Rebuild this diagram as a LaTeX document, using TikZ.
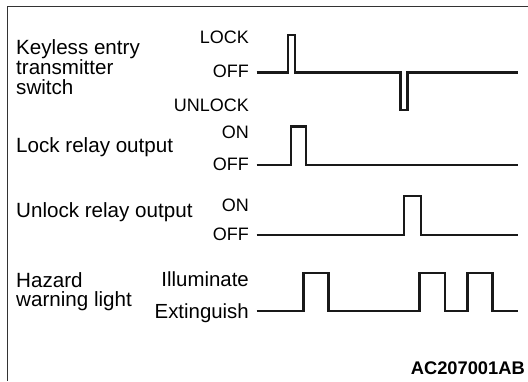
\documentclass[tikz,border=0pt]{standalone}
\usepackage{fontspec}
\setmainfont{Liberation Sans}
\begin{document}
\begin{tikzpicture}[x=1pt,y=-1pt,
  frame/.style={draw=black!80,line width=1.4pt},
  wave/.style={draw=black!90,line width=2.6pt,line join=miter},
  lbl/.style={inner sep=0pt,font=\fontsize{20.6}{20}\selectfont,align=left,anchor=base west},
  lvl/.style={inner sep=0pt,font=\fontsize{18}{20}\selectfont,anchor=base east},
  lvlw/.style={inner sep=0pt,font=\fontsize{20.4}{20}\selectfont,anchor=base east}]
\useasboundingbox (0,0) rectangle (528,381);
\coordinate (tl) at (7.5,6.5);
\coordinate (tr) at (528,6.5);
\coordinate (bl) at (7.5,381);
\draw[frame] (tr) -- (tl) -- (bl);
% left labels
\node[lbl] (k1) at (16,54) {Keyless entry};
\node[lbl] (k2) at (16,74) {transmitter};
\node[lbl] (k3) at (16,94) {switch};
\node[lbl] (lr) at (16,152) {Lock relay output};
\node[lbl] (ur) at (16,217) {Unlock relay output};
\node[lbl] (h1) at (16,287) {Hazard};
\node[lbl] (h2) at (16,306) {warning light};
% level labels
\node[lvl] (kl) at (249,43) {LOCK};
\node[lvl] (ko) at (249,77.5) {OFF};
\node[lvl] (ku) at (249,111) {UNLOCK};
\node[lvl] (lon) at (249,138) {ON};
\node[lvl] (loff) at (249,170) {OFF};
\node[lvl] (uon) at (249,211) {ON};
\node[lvl] (uoff) at (249,240) {OFF};
\node[lvlw] (hil) at (249,286) {Illuminate};
\node[lvlw] (hex) at (249,318) {Extinguish};
% waveforms
\draw[wave] (256.5,72.5) -- (288,72.5) -- (288,35) -- (295,35) -- (295,72.5)
  -- (400.5,72.5) -- (400.5,110) -- (407.5,110) -- (407.5,72.5) -- (518,72.5);
\draw[wave] (256.5,165) -- (291,165) -- (291,126.5) -- (306,126.5) -- (306,165) -- (518,165);
\draw[wave] (256.5,235) -- (404,235) -- (404,196) -- (421,196) -- (421,235) -- (518,235);
\draw[wave] (256.5,311) -- (303.5,311) -- (303.5,273) -- (328.5,273) -- (328.5,311)
  -- (419.5,311) -- (419.5,273) -- (445,273) -- (445,311)
  -- (467.5,311) -- (467.5,273) -- (492.5,273) -- (492.5,311) -- (518,311);
\node[inner sep=0pt,anchor=base east,font=\fontsize{18.3}{20}\selectfont\bfseries] (id) at (525,374) {AC207001AB};
\end{tikzpicture}
\end{document}
